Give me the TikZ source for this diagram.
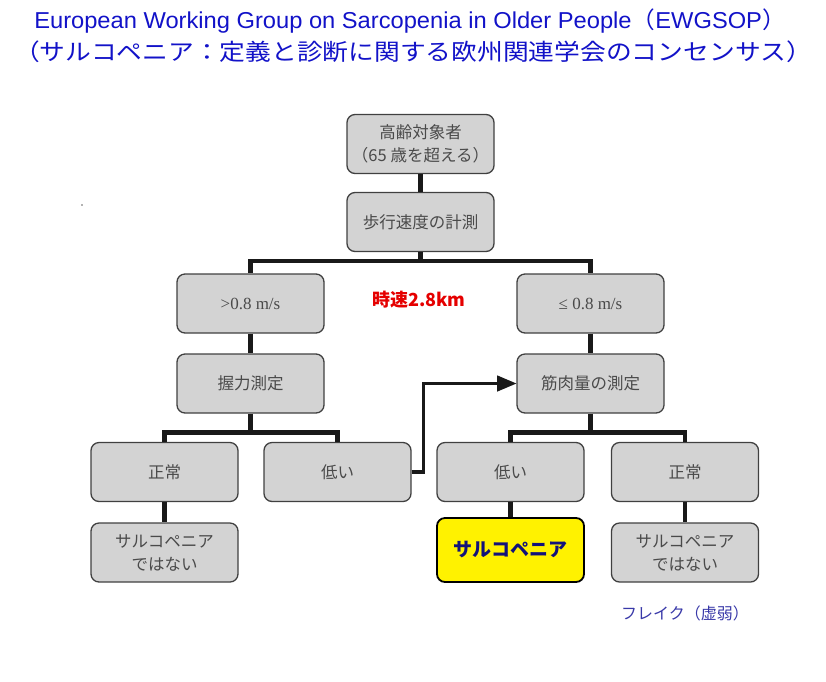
\documentclass[tikz,border=0pt]{standalone}
\usepackage{fontspec}
\usetikzlibrary{positioning}
\usetikzlibrary{arrows}
\usetikzlibrary{shapes}
\newfontfamily\jpfont{Noto Sans CJK JP}
\newfontfamily\titlefont{Liberation Sans}
\newfontfamily\boxserif{Liberation Serif}
\definecolor{boxgray}{HTML}{D3D3D3}
\definecolor{boxline}{HTML}{404040}
\definecolor{boxtext}{HTML}{4A4A4A}
\definecolor{titleblue}{HTML}{1212C8}
\definecolor{resultnavy}{HTML}{12127A}
\definecolor{frailblue}{HTML}{3838A8}
\tikzset{
        treenode/.style={align=center,inner sep=0pt},
        % Grey boxes of the chart
        node_box/.style={treenode, rectangle, rounded corners=8pt, draw=boxline, line width=1.3pt, fill=boxgray, text=boxtext, font=\jpfont\fontsize{16.5}{23}\selectfont, minimum width=147pt, minimum height=59pt},
        % Result box
        node_result/.style={node_box, draw=black, line width=1.8pt, fill=yellow, text=resultnavy, font=\jpfont\bfseries\fontsize{19}{23}\selectfont, minimum height=64pt},
        % Title lines
        node_title/.style={treenode, text=titleblue},
        % Free labels
        node_speed/.style={treenode, text=red!90!black, font=\jpfont\bfseries\fontsize{18}{20}\selectfont},
        node_frail/.style={treenode, text=frailblue, font=\jpfont\fontsize{16}{20}\selectfont},
        % Connectors
        branch/.style={line width=4.6pt, draw=black!90}
}
\begin{document}
\begin{tikzpicture}[x=1pt, y=1pt]
            \useasboundingbox (0,0) rectangle (826,-681);
            % title
            \node[node_title, font=\titlefont\fontsize{23}{26}\selectfont] (title1) at (410,-21) {\scalebox{1.03}[1]{European Working Group on Sarcopenia in Older People{\jpfont（}EWGSOP{\jpfont）}}};
            \node[node_title, font=\jpfont\fontsize{23}{26}\selectfont] (title2) at (413,-52) {\scalebox{1.12}[1]{（サルコペニア：定義と診断に関する欧州関連学会のコンセンサス）}};
            % chart
            \node[node_box] (target) at (420.5,-144) {高齢対象者\\（65 歳を超える）};
            \node[node_box] (gait) at (420.5,-222) {歩行速度の計測};
            \node[node_box, font=\boxserif\fontsize{17}{20}\selectfont] (fast) at (250.5,-303.5) {>0.8 m/s};
            \node[node_box, font=\boxserif\fontsize{17}{20}\selectfont] (slow) at (590.5,-303.5) {≤ 0.8 m/s};
            \node[node_box] (grip) at (250.5,-383.5) {握力測定};
            \node[node_box] (mass) at (590.5,-383.5) {筋肉量の測定};
            \node[node_box] (gripnormal) at (164.5,-472) {正常};
            \node[node_box] (griplow) at (337.5,-472) {低い};
            \node[node_box] (masslow) at (510.5,-472) {低い};
            \node[node_box] (massnormal) at (685,-472) {正常};
            \node[node_box] (nonsarc1) at (164.5,-552.5) {サルコペニア\\ではない};
            \node[node_result] (sarc) at (510.5,-550) {サルコペニア};
            \node[node_box] (nonsarc2) at (685,-552.5) {サルコペニア\\ではない};
            \node[node_speed] (speed) at (419,-300) {時速2.8km};
            \node[node_frail] (frail) at (685,-613) {フレイク（虚弱）};
            \fill[black!60] (82,-205) circle (0.8);

            \draw[branch] (target) -- (gait);
            \draw[branch] (gait.south) -- ++(0,-9) coordinate (gaitsplit) -| (fast.north);
            \draw[branch] (gaitsplit) -| (slow.north);
            \draw[branch] (fast) -- (grip);
            \draw[branch] (slow) -- (mass);
            \draw[branch] (grip.south) -- ++(0,-19) coordinate (gripsplit) -| (gripnormal.north);
            \draw[branch] (gripsplit) -| (griplow.north);
            \draw[branch] (mass.south) -- ++(0,-19) coordinate (masssplit) -| (masslow.north);
            \draw[branch] (masssplit) -| (massnormal.north);
            \draw[branch] (gripnormal) -- (nonsarc1);
            \draw[branch] (masslow) -- (sarc);
            \draw[branch] (massnormal) -- (nonsarc2);
            \draw[branch, line width=3.6pt, -triangle 45] (griplow.east) -- ++(12,0) |- (mass.west);
        \end{tikzpicture}
\end{document}
